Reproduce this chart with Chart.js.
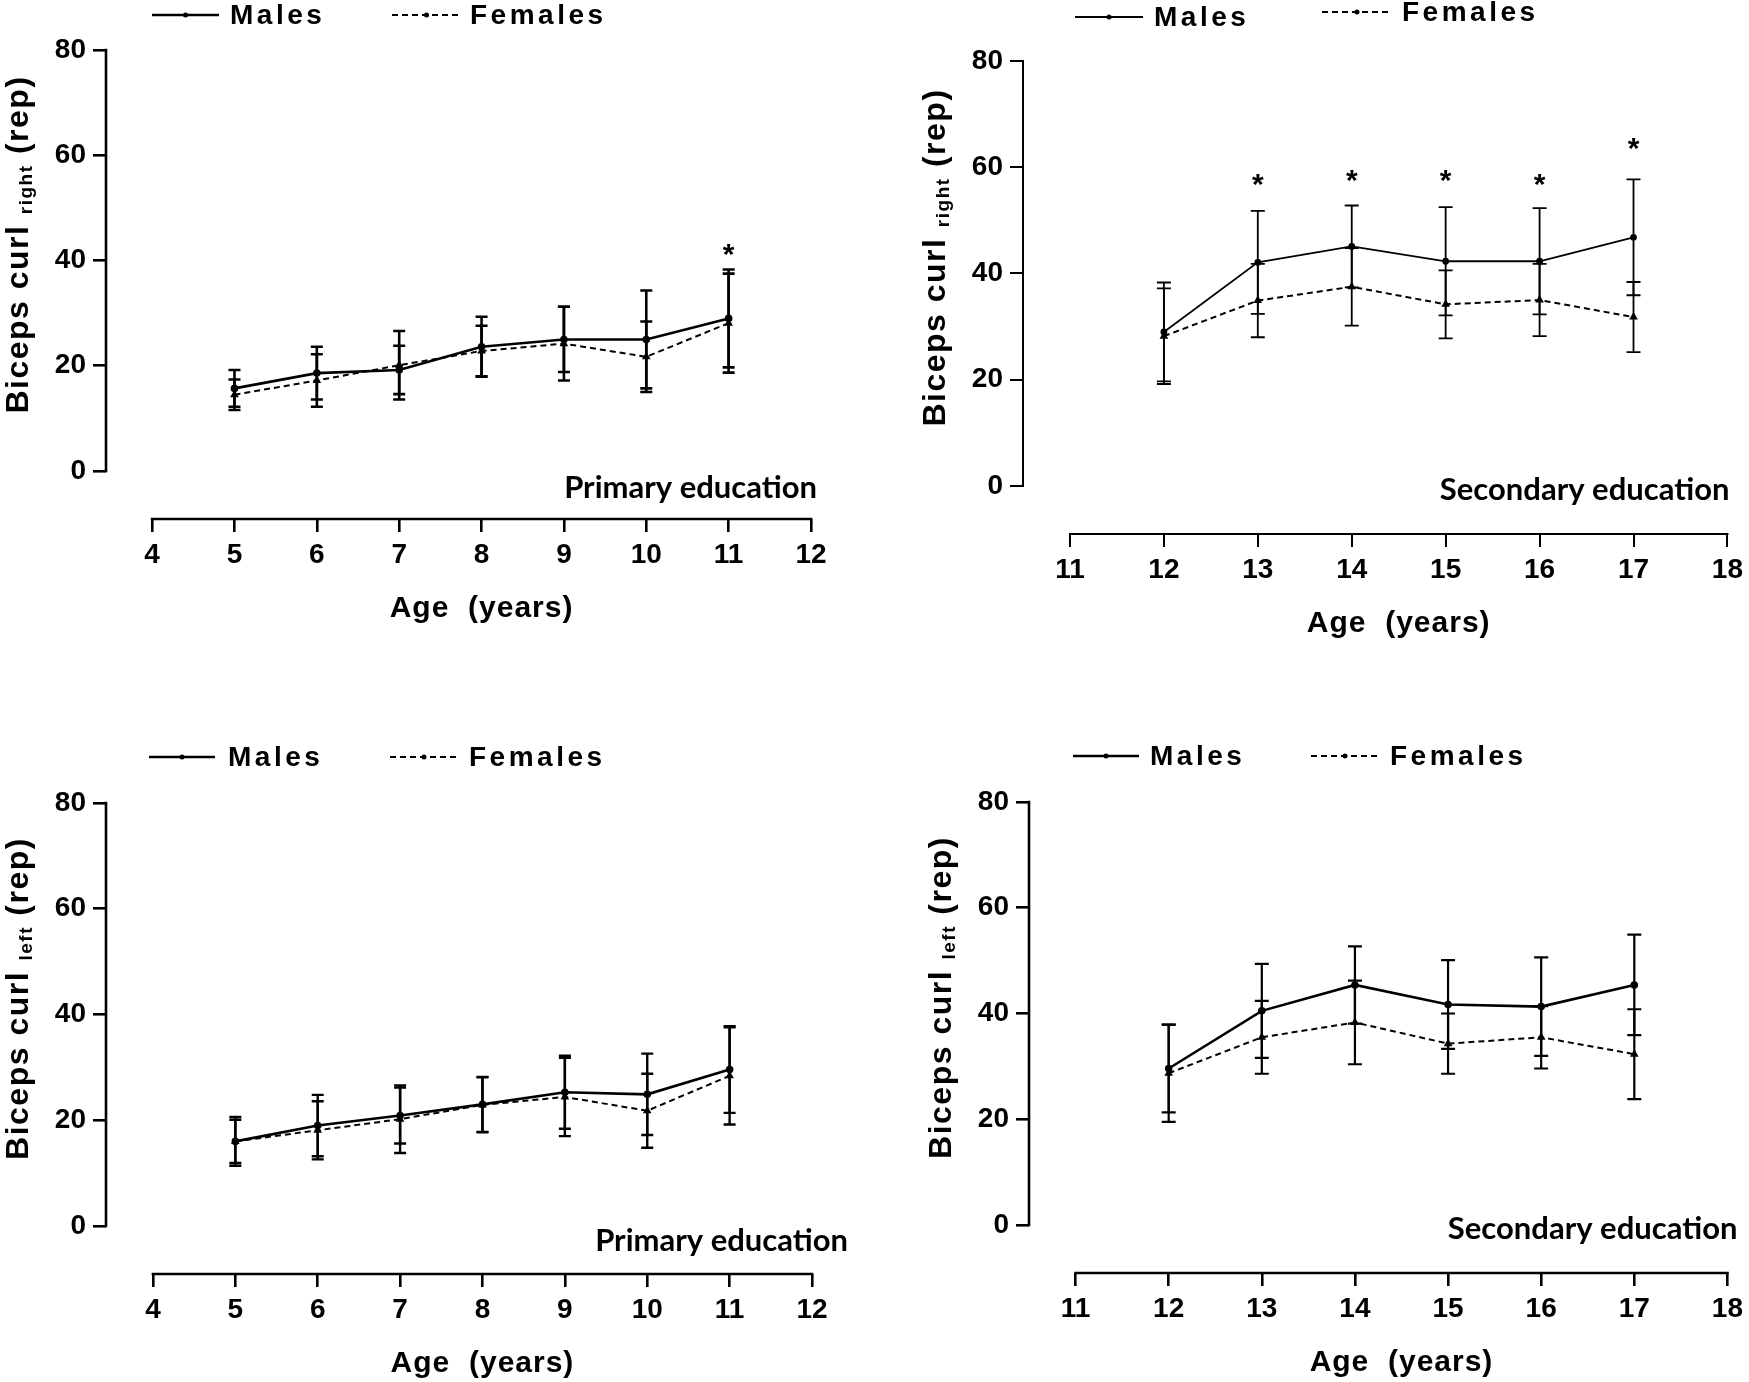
<!DOCTYPE html>
<html>
<head>
<meta charset="utf-8">
<script src="https://cdn.jsdelivr.net/npm/chart.js@4.4.0/dist/chart.umd.min.js"></script>
<style>
  html, body { margin: 0; padding: 0; background: #fff; }
  #wrap { position: relative; width: 1749px; height: 1382px; }
  .box { position: absolute; }
</style>
</head>
<body>
<div id="wrap">
  <div class="box" style="left:0;top:0;width:875px;height:691px"><canvas id="c1"></canvas></div>
  <div class="box" style="left:875px;top:0;width:874px;height:691px"><canvas id="c2"></canvas></div>
  <div class="box" style="left:0;top:691px;width:875px;height:691px"><canvas id="c3"></canvas></div>
  <div class="box" style="left:875px;top:691px;width:874px;height:691px"><canvas id="c4"></canvas></div>
</div>
<script>
// data
const agesPrimary = [5, 6, 7, 8, 9, 10, 11];
const agesSecondary = [12, 13, 14, 15, 16, 17];
const xTicksPrimary = [4, 5, 6, 7, 8, 9, 10, 11, 12];
const xTicksSecondary = [11, 12, 13, 14, 15, 16, 17, 18];
const yTicks = [0, 20, 40, 60, 80];

// right arm, primary
const malesRightPrimary = [15.7, 18.6, 19.2, 23.6, 25.0, 25.0, 29.0];
const malesRightPrimarySD = [3.5, 5.0, 4.6, 5.7, 6.2, 9.3, 9.3];
const femalesRightPrimary = [14.5, 17.2, 20.1, 22.8, 24.2, 21.7, 28.1];
const femalesRightPrimarySD = [2.9, 5.0, 6.5, 4.8, 7.0, 6.7, 9.4];
const sigRightPrimaryAges = [11];
const sigRightPrimaryY = [42.5];

// right arm, secondary
const malesRightSecondary = [29.0, 42.1, 45.1, 42.3, 42.3, 46.8];
const malesRightSecondarySD = [9.3, 9.7, 7.7, 10.2, 10.0, 10.9];
const femalesRightSecondary = [28.2, 34.9, 37.5, 34.2, 35.0, 31.8];
const femalesRightSecondarySD = [9.0, 6.9, 7.3, 6.4, 6.8, 6.6];
const sigRightSecondaryAges = [13, 14, 15, 16, 17];
const sigRightSecondaryY = [58.2, 59.0, 59.0, 58.2, 64.9];

// left arm, primary
const malesLeftPrimary = [16.0, 19.0, 20.9, 23.0, 25.3, 24.9, 29.6];
const malesLeftPrimarySD = [4.6, 5.8, 5.3, 5.2, 6.9, 7.7, 8.2];
const femalesLeftPrimary = [16.0, 18.1, 20.2, 22.9, 24.4, 21.8, 28.4];
const femalesLeftPrimarySD = [4.1, 5.5, 6.4, 5.2, 7.4, 7.0, 9.2];

// left arm, secondary
const malesLeftSecondary = [29.6, 40.5, 45.4, 41.7, 41.3, 45.4];
const malesLeftSecondarySD = [8.3, 8.9, 7.3, 8.4, 9.3, 9.5];
const femalesLeftSecondary = [28.7, 35.5, 38.3, 34.3, 35.5, 32.3];
const femalesLeftSecondarySD = [9.2, 6.9, 7.9, 5.7, 5.9, 8.5];

const FONT = "'Liberation Sans', Arial, sans-serif";
const NOTE_FONT = "Lato, 'Open Sans', sans-serif";

Chart.defaults.font.family = FONT;
Chart.defaults.color = '#000';

// prism-like decorations: axis lines, error bars, stars, legend, titles
const decor = {
  id: 'decor',
  afterDatasetsDraw(chart, args, o) {
    const ctx = chart.ctx;
    const xs = chart.scales.x, ys = chart.scales.y, a = chart.chartArea;
    ctx.save();
    ctx.strokeStyle = '#000';
    ctx.fillStyle = '#000';
    ctx.lineCap = 'square';

    // axes
    ctx.lineWidth = o.axisWidth;
    ctx.beginPath();
    ctx.moveTo(a.left, ys.getPixelForValue(yTicks[0]));
    ctx.lineTo(a.left, ys.getPixelForValue(yTicks[yTicks.length - 1]));
    ctx.moveTo(xs.getPixelForValue(o.xTicks[0]), a.bottom);
    ctx.lineTo(xs.getPixelForValue(o.xTicks[o.xTicks.length - 1]), a.bottom);
    ctx.stroke();

    // error bars
    ctx.lineCap = 'butt';
    ctx.lineWidth = o.barWidth;
    chart.data.datasets.forEach((ds, i) => {
      const meta = chart.getDatasetMeta(i);
      ds.data.forEach((p, j) => {
        const x = meta.data[j].x;
        const hi = ys.getPixelForValue(p.y + ds.sd[j]);
        const lo = ys.getPixelForValue(p.y - ds.sd[j]);
        ctx.beginPath();
        ctx.moveTo(x, hi); ctx.lineTo(x, lo);
        ctx.moveTo(x - o.cap, hi); ctx.lineTo(x + o.cap, hi);
        ctx.moveTo(x - o.cap, lo); ctx.lineTo(x + o.cap, lo);
        ctx.stroke();
      });
    });

    // significance stars
    ctx.font = 'bold 30px ' + FONT;
    ctx.textAlign = 'center';
    ctx.textBaseline = 'alphabetic';
    o.sigAges.forEach((age, k) => {
      ctx.fillText('*', xs.getPixelForValue(age), ys.getPixelForValue(o.sigY[k]) + 17);
    });

    // legend
    ctx.textAlign = 'left';
    ctx.textBaseline = 'middle';
    ctx.font = 'bold 28px ' + FONT;
    o.legend.forEach((it, i) => {
      const ds = chart.data.datasets[i];
      ctx.lineWidth = ds.borderWidth;
      ctx.setLineDash(ds.borderDash || []);
      ctx.beginPath();
      ctx.moveTo(it.x1, it.y); ctx.lineTo(it.x2, it.y);
      ctx.stroke();
      ctx.setLineDash([]);
      ctx.beginPath();
      ctx.arc((it.x1 + it.x2) / 2, it.y, 2.5, 0, Math.PI * 2);
      ctx.fill();
      ctx.letterSpacing = '3.5px';
      ctx.fillText(ds.label, it.tx, it.y + 1);
      ctx.letterSpacing = '0px';
    });

    // x title
    const x0 = xs.getPixelForValue(o.xTicks[0]);
    const x1 = xs.getPixelForValue(o.xTicks[o.xTicks.length - 1]);
    ctx.textAlign = 'center';
    ctx.font = 'bold 30px ' + FONT;
    ctx.letterSpacing = '1px';
    ctx.fillText('Age  (years)', (x0 + x1) / 2, a.bottom + 90);

    // y title with subscript
    const cy = (ys.getPixelForValue(0) + ys.getPixelForValue(80)) / 2 - 16;
    ctx.save();
    ctx.translate(a.left - 78, cy);
    ctx.rotate(-Math.PI / 2);
    ctx.textAlign = 'left';
    ctx.textBaseline = 'alphabetic';
    ctx.letterSpacing = '1.5px';
    const big = 'bold 32px ' + FONT, small = 'bold 19px ' + FONT;
    const parts = [['Biceps curl ', big, 0], [o.side, small, 4], [' (rep)', big, 0]];
    let total = 0;
    parts.forEach(p => { ctx.font = p[1]; total += ctx.measureText(p[0]).width; });
    let px = -total / 2;
    parts.forEach(p => {
      ctx.font = p[1];
      ctx.fillText(p[0], px, p[2]);
      px += ctx.measureText(p[0]).width;
    });
    ctx.restore();

    // education note
    ctx.letterSpacing = '0px';
    ctx.textAlign = 'right';
    ctx.textBaseline = 'middle';
    ctx.font = 'bold 31px ' + NOTE_FONT;
    ctx.fillText(o.note, x1 + o.noteDx, ys.getPixelForValue(0) + o.noteDy);

    ctx.restore();
  }
};

function pts(ages, vals) {
  return ages.map((a, i) => ({ x: a, y: vals[i] }));
}

function makePanel(id, p) {
  new Chart(document.getElementById(id), {
    type: 'line',
    data: {
      datasets: [
        {
          label: 'Males',
          data: pts(p.ages, p.males),
          sd: p.malesSD,
          borderColor: '#000', backgroundColor: '#000',
          borderWidth: p.lineW, pointRadius: 2.5, pointHoverRadius: 2.5,
          tension: 0
        },
        {
          label: 'Females',
          data: pts(p.ages, p.females),
          sd: p.femalesSD,
          borderColor: '#000', backgroundColor: '#000',
          borderWidth: 2, borderDash: [6, 4],
          pointStyle: 'triangle', pointRadius: 3, pointHoverRadius: 3,
          tension: 0
        }
      ]
    },
    options: {
      responsive: true,
      maintainAspectRatio: false,
      animation: false,
      layout: { padding: { top: p.area.top, right: p.W - p.area.right, left: 0, bottom: 0 } },
      plugins: {
        legend: { display: false },
        tooltip: { enabled: false },
        decor: {
          axisWidth: p.axisW, barWidth: p.barW, cap: p.cap,
          xTicks: p.xTicks, sigAges: p.sigAges, sigY: p.sigY,
          legend: p.legend, side: p.side, note: p.note,
          noteDx: p.noteDx, noteDy: p.noteDy
        }
      },
      scales: {
        x: {
          type: 'linear', min: p.xMin, max: p.xMax,
          afterFit: s => { s.height = p.H - p.area.bottom; },
          afterBuildTicks: s => { s.ticks = p.xTicks.map(v => ({ value: v })); },
          border: { display: false },
          grid: { drawOnChartArea: false, drawTicks: true, tickLength: 13, color: '#000', lineWidth: p.axisW },
          ticks: { padding: 6, autoSkip: false, maxRotation: 0, color: '#000', font: { size: 28, weight: 'bold' } }
        },
        y: {
          min: p.yMin, max: 80,
          afterFit: s => { s.width = p.area.left; },
          afterBuildTicks: s => { s.ticks = yTicks.map(v => ({ value: v })); },
          border: { display: false },
          grid: { drawOnChartArea: false, drawTicks: true, tickLength: 13, color: '#000', lineWidth: p.axisW },
          ticks: { padding: 7, color: '#000', font: { size: 28, weight: 'bold' } }
        }
      }
    },
    plugins: [decor]
  });
}

makePanel('c1', {
  W: 875, H: 691, area: { left: 106, top: 50, right: 811, bottom: 519 },
  xMin: 3.44, xMax: 12, yMin: -9.12, xTicks: xTicksPrimary,
  ages: agesPrimary,
  males: malesRightPrimary, malesSD: malesRightPrimarySD,
  females: femalesRightPrimary, femalesSD: femalesRightPrimarySD,
  sigAges: sigRightPrimaryAges, sigY: sigRightPrimaryY,
  lineW: 2.6, axisW: 2.6, barW: 2.6, cap: 6,
  side: 'right', note: 'Primary education', noteDx: 6, noteDy: 17,
  legend: [{ x1: 152, x2: 219, y: 15, tx: 230 }, { x1: 392, x2: 461, y: 15, tx: 470 }]
});

makePanel('c2', {
  W: 874, H: 691, area: { left: 148, top: 61, right: 855, bottom: 534 },
  xMin: 10.5, xMax: 18, yMin: -9.04, xTicks: xTicksSecondary,
  ages: agesSecondary,
  males: malesRightSecondary, malesSD: malesRightSecondarySD,
  females: femalesRightSecondary, femalesSD: femalesRightSecondarySD,
  sigAges: sigRightSecondaryAges, sigY: sigRightSecondaryY,
  lineW: 1.8, axisW: 2, barW: 1.8, cap: 7,
  side: 'right', note: 'Secondary education', noteDx: 2, noteDy: 4,
  legend: [{ x1: 200, x2: 268, y: 17, tx: 279 }, { x1: 447, x2: 517, y: 12, tx: 527 }]
});

makePanel('c3', {
  W: 875, H: 691, area: { left: 106, top: 112, right: 812, bottom: 583 },
  xMin: 3.43, xMax: 12, yMin: -9.08, xTicks: xTicksPrimary,
  ages: agesPrimary,
  males: malesLeftPrimary, malesSD: malesLeftPrimarySD,
  females: femalesLeftPrimary, femalesSD: femalesLeftPrimarySD,
  sigAges: [], sigY: [],
  lineW: 2.6, axisW: 2.6, barW: 2.4, cap: 6,
  side: 'left', note: 'Primary education', noteDx: 36, noteDy: 15,
  legend: [{ x1: 149, x2: 215, y: 66, tx: 228 }, { x1: 390, x2: 458, y: 66, tx: 469 }]
});

makePanel('c4', {
  W: 874, H: 691, area: { left: 154, top: 111, right: 856, bottom: 582 },
  xMin: 10.5, xMax: 18, yMin: -9.08, xTicks: xTicksSecondary,
  ages: agesSecondary,
  males: malesLeftSecondary, malesSD: malesLeftSecondarySD,
  females: femalesLeftSecondary, femalesSD: femalesLeftSecondarySD,
  sigAges: [], sigY: [],
  lineW: 2.6, axisW: 2.6, barW: 2.2, cap: 7,
  side: 'left', note: 'Secondary education', noteDx: 10, noteDy: 4,
  legend: [{ x1: 198, x2: 264, y: 65, tx: 275 }, { x1: 436, x2: 504, y: 65, tx: 515 }]
});
</script>
</body>
</html>
